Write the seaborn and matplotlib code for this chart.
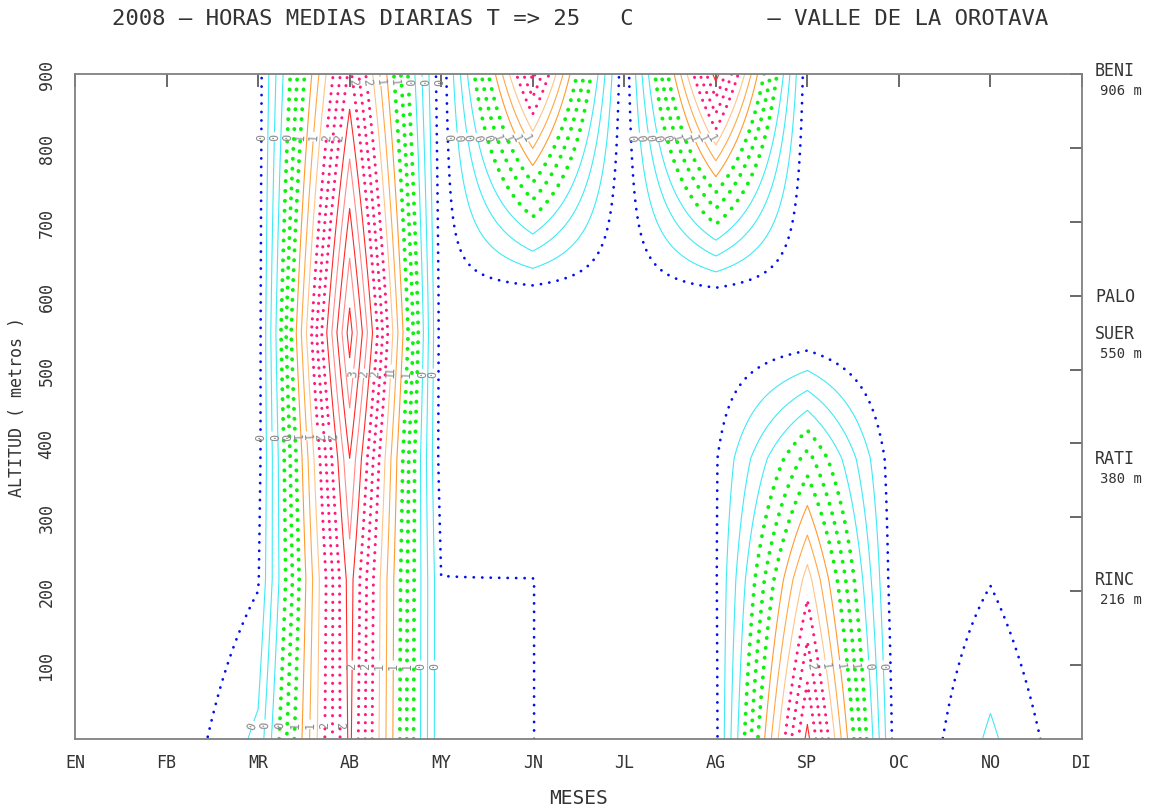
import numpy as np
import matplotlib
matplotlib.use("Agg")
import matplotlib.pyplot as plt
import seaborn as sns

# ---------------- data ----------------
months = ["EN", "FB", "MR", "AB", "MY", "JN", "JL", "AG", "SP", "OC", "NO", "DI"]
altitudes = [0, 216, 380, 550, 600, 906]

# daily mean hours with T >= 25 C (gridded values, one list per altitude level)
hours_0m   = [-0.30, -0.20, 0.25, 2.65, 0.003, 0.003, -0.20, -0.05, 2.67, -0.22, 0.24, -0.20]
hours_216m = [-0.30, -0.30, -0.02, 2.70, 0.003, 0.003, -0.20, -0.02, 1.90, -0.25, -0.01, -0.30]
hours_380m = [-0.30, -0.30, -0.08, 3.00, -0.10, -0.30, -0.20, -0.02, 1.08, -0.20, -0.30, -0.30]
hours_550m = [-0.30, -0.30, -0.10, 3.50, -0.10, -0.30, -0.20, -0.20, -0.18, -0.30, -0.30, -0.30]
hours_600m = [-0.30, -0.30, -0.10, 3.35, -0.10, -0.12, -0.15, -0.10, -0.17, -0.30, -0.30, -0.30]
hours_906m = [-0.30, -0.30, -0.10, 2.44, -0.15, 2.52, -0.15, 2.75, -0.14, -0.30, -0.30, -0.30]

station_names = ["BENI", "PALO", "SUER", "RATI", "RINC"]
station_alts = [906, 600, 550, 380, 216]
station_alt_text = ["906 m", "", "550 m", "380 m", "216 m"]

ytick_values = [100, 200, 300, 400, 500, 600, 700, 800, 900]

title = "2008 \u2013 HORAS MEDIAS DIARIAS T => 25   C          \u2013 VALLE DE LA OROTAVA"

# contour level groups
lev_blue = [0.0]
lev_cyan = [0.2, 0.4, 0.6]
lev_green = [0.8, 1.0, 1.2]
lev_orange = [1.4, 1.6, 1.8]
lev_pink = [2.0, 2.2, 2.4]
lev_red = [2.6, 2.8, 3.0, 3.2, 3.4]

# rows where contour labels are written: altitude, month range
label_alt = [815, 410, 20, 890, 495, 100, 815, 815, 100]
label_xmin = [1.6, 1.6, 1.6, 3.0, 3.0, 3.0, 4.0, 6.0, 7.0]
label_xmax = [3.0, 3.0, 3.0, 4.0, 4.0, 4.0, 5.0, 7.0, 9.0]

# ---------------- style ----------------
sns.set_theme(style="white")
plt.rcParams['font.family'] = ['DejaVu Sans Mono', 'DejaVu Sans']
txt_col = '#333333'

fig = plt.figure(figsize=(11.59, 8.12), dpi=100)
ax = fig.add_axes([75 / 1159, 1 - 740 / 812, 1007 / 1159, 665 / 812])

x = np.arange(len(months))
Z = np.array([hours_0m, hours_216m, hours_380m, hours_550m, hours_600m, hours_906m])

# bilinear refinement of the station grid for smooth contour drawing
xf = np.linspace(0, len(months) - 1, 551)
yf = np.linspace(altitudes[0], altitudes[-1], 454)
Zx = np.array([np.interp(xf, x, row) for row in Z])
Zf = np.array([np.interp(yf, altitudes, Zx[:, j]) for j in range(len(xf))]).T
XF, YF = np.meshgrid(xf, yf)

groups = [
    (lev_blue, ['#0010F0'], (0, (0.05, 3.0)), 2.0, True),
    (lev_cyan, ['#3FEAF5'] * 3, 'solid', 0.8, False),
    (lev_green, ['#10F010'] * 3, (0, (0.05, 2.5)), 2.8, True),
    (lev_orange, ['#FF9A30', '#FFA846', '#FFC48A'], 'solid', 0.8, False),
    (lev_pink, ['#FF1A80'] * 3, (0, (0.05, 2.6)), 2.2, True),
    (lev_red, ['#FF2A2A', '#FF8A8A', '#FF2A2A', '#FF8A8A', '#FF2A2A'], 'solid', 0.8, False),
]


def fmt(v):
    return "%d" % int(np.floor(v + 1e-9))


sets = []
for levs, cols, ls, lw, dotted in groups:
    cs = ax.contour(XF, YF, Zf, levels=levs, colors=cols, linestyles=[ls] * len(levs),
                    linewidths=lw)
    if dotted:
        cs.set_capstyle('round')
    sets.append(cs)

# label positions: where each contour line crosses the label rows
cands = []
for gi, cs in enumerate(sets):
    for path in cs.get_paths():
        for poly in path.to_polygons(closed_only=False):
            if len(poly) < 2:
                continue
            for ri, (alt, xa, xb) in enumerate(zip(label_alt, label_xmin, label_xmax)):
                y0 = poly[:-1, 1] - alt
                y1 = poly[1:, 1] - alt
                idx = np.where((y0 * y1 <= 0) & (poly[:-1, 1] != poly[1:, 1]))[0]
                for k in idx[:1]:
                    (xa0, ya0), (xa1, ya1) = poly[k], poly[k + 1]
                    xc = xa0 + (alt - ya0) * (xa1 - xa0) / (ya1 - ya0)
                    if xa <= xc <= xb:
                        cands.append((ri, xc, alt, gi))
pts_by_group = {gi: [] for gi in range(len(sets))}
for ri in range(len(label_alt)):
    row = sorted([c for c in cands if c[0] == ri], key=lambda c: c[1])
    last = -99
    for _, xc, alt, gi in row:
        if xc - last >= 0.085:
            pts_by_group[gi].append((xc, alt))
            last = xc
for gi, cs in enumerate(sets):
    if pts_by_group[gi]:
        ax.clabel(cs, manual=pts_by_group[gi], fmt=fmt, fontsize=8.5, colors='#8a8a8a',
                  inline=True, inline_spacing=1)

ax.set_xlim(0, len(months) - 1)
ax.set_ylim(0, 900)
ax.set_xticks(x)
ax.set_xticklabels(months)
ax.set_yticks(ytick_values)
ax.set_yticklabels([str(v) for v in ytick_values])

for sp in ax.spines.values():
    sp.set_color('#808080')
    sp.set_linewidth(1.3)

ax.tick_params(axis='both', direction='in', length=9, width=1.1, color='#404040',
               top=True, right=True, labelsize=12, labelcolor=txt_col)
ax.tick_params(axis='x', pad=10)
ax.tick_params(axis='y', pad=14)
for lab in ax.get_yticklabels():
    lab.set_rotation(90)
    lab.set_va('center')

ax.set_xlabel("MESES", fontsize=14, color=txt_col, labelpad=12)
ax.set_ylabel("ALTITUD ( metros )", fontsize=12, color=txt_col, labelpad=8)
fig.text(580 / 1159, 1 - 19 / 812, title, ha='center', va='center', fontsize=16, color=txt_col)

# station labels on right
trans = ax.get_yaxis_transform()
for name, alt, atxt in zip(station_names, station_alts, station_alt_text):
    ax.annotate(name, xy=(1.0, alt), xycoords=trans, xytext=(13, 0),
                textcoords='offset pixels', ha='left', va='center', fontsize=12,
                color=txt_col, annotation_clip=False)
    if atxt:
        ax.annotate(atxt, xy=(1.0, alt), xycoords=trans, xytext=(18, -20),
                    textcoords='offset pixels', ha='left', va='center', fontsize=10,
                    color=txt_col, annotation_clip=False)

fig.savefig("out.png", dpi=100)
